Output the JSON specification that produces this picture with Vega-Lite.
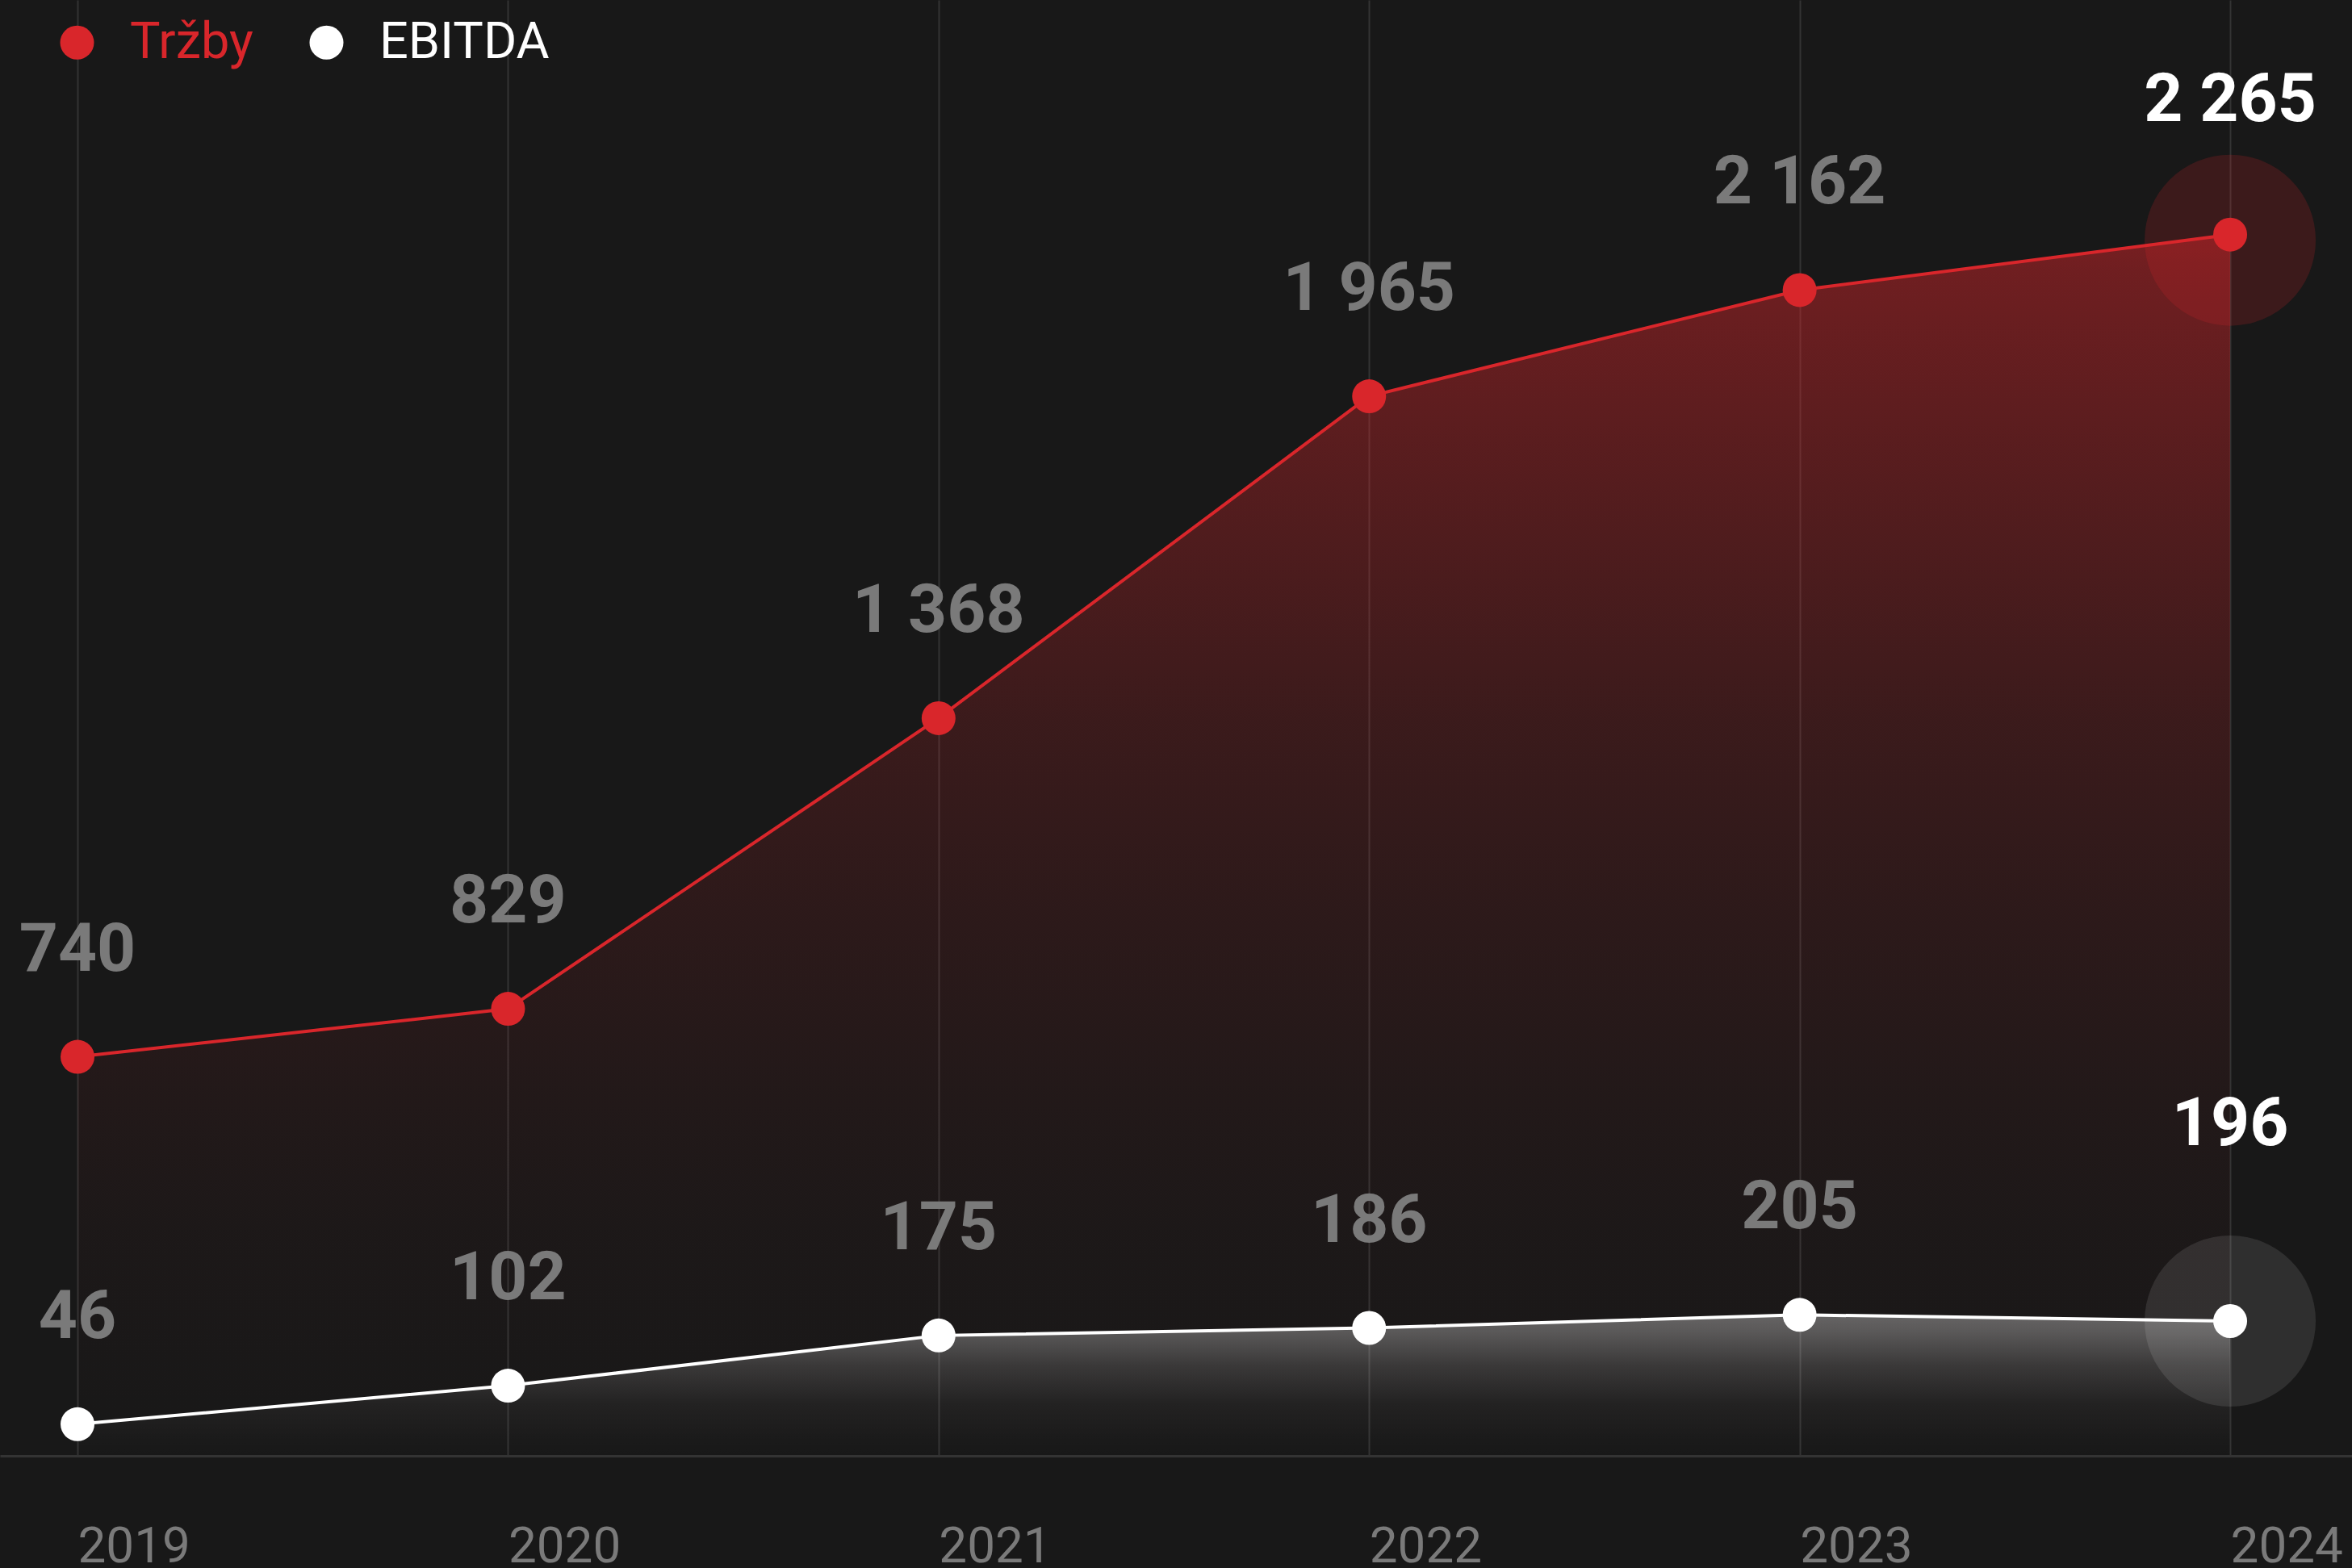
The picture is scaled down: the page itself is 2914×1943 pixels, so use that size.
{
  "$schema": "https://vega.github.io/schema/vega-lite/v6.json",
  "width": 2914,
  "height": 1804,
  "autosize": {"type": "none"},
  "padding": {"left": 0, "top": 0, "right": 0, "bottom": 139},
  "background": "#181818",
  "config": {
    "view": {"stroke": null},
    "font": "Roboto",
    "locale": {"number": {"decimal": ",", "thousands": " ", "grouping": [3], "currency": ["", " Kč"]}}
  },
  "data": {
    "values": [
      {"year": 2019, "series": "Tržby", "value": 740},
      {"year": 2020, "series": "Tržby", "value": 829},
      {"year": 2021, "series": "Tržby", "value": 1368},
      {"year": 2022, "series": "Tržby", "value": 1965},
      {"year": 2023, "series": "Tržby", "value": 2162},
      {"year": 2024, "series": "Tržby", "value": 2265},
      {"year": 2019, "series": "EBITDA", "value": 46},
      {"year": 2020, "series": "EBITDA", "value": 102},
      {"year": 2021, "series": "EBITDA", "value": 175},
      {"year": 2022, "series": "EBITDA", "value": 186},
      {"year": 2023, "series": "EBITDA", "value": 205},
      {"year": 2024, "series": "EBITDA", "value": 196}
    ]
  },
  "encoding": {
    "x": {
      "field": "year",
      "type": "quantitative",
      "scale": {"domain": [2018.82, 2024.283], "nice": false, "zero": false},
      "axis": {
        "values": [2019, 2020, 2021, 2022, 2023, 2024],
        "format": "d",
        "title": null,
        "ticks": false,
        "labelAlign": "left",
        "labelBaseline": "alphabetic",
        "labelPadding": 131,
        "labelFontSize": 62,
        "labelFont": "Roboto",
        "labelColor": "#7a7a7a",
        "labelFlush": false,
        "labelOverlap": false,
        "grid": true,
        "gridColor": "#333333",
        "gridWidth": 2,
        "domainColor": "#333333",
        "domainWidth": 3
      }
    }
  },
  "layer": [
    {
      "transform": [{"filter": "datum.series === 'Tržby'"}],
      "encoding": {
        "y": {"field": "value", "type": "quantitative", "scale": {"domain": [0, 2700], "nice": false, "zero": true}, "axis": null}
      },
      "layer": [
        {
          "mark": {
            "type": "area",
            "fill": {
              "gradient": "linear", "x1": 0, "x2": 0, "y1": 0, "y2": 1,
              "stops": [
                {"offset": 0, "color": "rgba(217,38,43,0.5)"},
                {"offset": 0.03, "color": "rgba(217,38,43,0.45)"},
                {"offset": 0.17, "color": "rgba(217,38,43,0.34)"},
                {"offset": 0.4, "color": "rgba(217,38,43,0.18)"},
                {"offset": 0.55, "color": "rgba(217,38,43,0.11)"},
                {"offset": 0.7, "color": "rgba(217,38,43,0.055)"},
                {"offset": 0.82, "color": "rgba(217,38,43,0.025)"},
                {"offset": 1, "color": "rgba(217,38,43,0)"}
              ]
            }
          }
        },
        {
          "transform": [{"filter": "datum.year === 2024"}],
          "mark": {"type": "circle", "size": 44944, "color": "#d9262b", "opacity": 0.19, "yOffset": 7}
        },
        {"mark": {"type": "line", "color": "#d9262b", "strokeWidth": 4}},
        {
          "mark": {"type": "circle", "size": 1764, "opacity": 1},
          "encoding": {
            "color": {
              "field": "series", "type": "nominal",
              "scale": {"domain": ["Tržby", "EBITDA"], "range": ["#d9262b", "#ffffff"]},
              "legend": {
                "orient": "none", "legendX": 64, "legendY": 21, "direction": "horizontal",
                "title": null, "padding": 0, "symbolType": "circle", "symbolSize": 1764,
                "symbolStrokeWidth": 0, "symbolOpacity": 1,
                "labelFontSize": 63, "labelFont": "Roboto", "labelOffset": 34, "columnPadding": 59, "labelLimit": 0,
                "encode": {"labels": {"update": {"fill": {"signal": "datum.value === 'Tržby' ? '#d9262b' : '#ffffff'"}}}}
              }
            }
          }
        },
        {
          "transform": [{"filter": "datum.year < 2024"}],
          "mark": {"type": "text", "dy": -107, "baseline": "alphabetic", "fontSize": 84, "fontWeight": "bold", "font": "Roboto", "color": "#7a7a7a"},
          "encoding": {"text": {"field": "value", "type": "quantitative", "format": ",d"}}
        },
        {
          "transform": [{"filter": "datum.year === 2024"}],
          "mark": {"type": "text", "dy": -141, "baseline": "alphabetic", "fontSize": 84, "fontWeight": "bold", "font": "Roboto", "color": "#ffffff"},
          "encoding": {"text": {"field": "value", "type": "quantitative", "format": ",d"}}
        }
      ]
    },
    {
      "transform": [{"filter": "datum.series === 'EBITDA'"}],
      "encoding": {
        "y": {"field": "value", "type": "quantitative", "scale": {"domain": [0, 2117], "nice": false, "zero": true}, "axis": null}
      },
      "layer": [
        {
          "mark": {
            "type": "area",
            "fill": {
              "gradient": "linear", "x1": 0, "x2": 0, "y1": 0, "y2": 1,
              "stops": [
                {"offset": 0, "color": "rgba(255,255,255,0.33)"},
                {"offset": 0.12, "color": "rgba(255,255,255,0.28)"},
                {"offset": 0.36, "color": "rgba(255,255,255,0.14)"},
                {"offset": 0.63, "color": "rgba(255,255,255,0.045)"},
                {"offset": 0.87, "color": "rgba(255,255,255,0.012)"},
                {"offset": 1, "color": "rgba(255,255,255,0)"}
              ]
            }
          }
        },
        {
          "transform": [{"filter": "datum.year === 2024"}],
          "mark": {"type": "circle", "size": 44944, "color": "#ffffff", "opacity": 0.1}
        },
        {"mark": {"type": "line", "color": "#ffffff", "strokeWidth": 4}},
        {
          "mark": {"type": "circle", "size": 1764, "opacity": 1},
          "encoding": {
            "color": {
              "field": "series", "type": "nominal",
              "scale": {"domain": ["Tržby", "EBITDA"], "range": ["#d9262b", "#ffffff"]},
              "legend": {
                "orient": "none", "legendX": 64, "legendY": 21, "direction": "horizontal",
                "title": null, "padding": 0, "symbolType": "circle", "symbolSize": 1764,
                "symbolStrokeWidth": 0, "symbolOpacity": 1,
                "labelFontSize": 63, "labelFont": "Roboto", "labelOffset": 34, "columnPadding": 59, "labelLimit": 0,
                "encode": {"labels": {"update": {"fill": {"signal": "datum.value === 'Tržby' ? '#d9262b' : '#ffffff'"}}}}
              }
            }
          }
        },
        {
          "transform": [{"filter": "datum.year < 2024"}],
          "mark": {"type": "text", "dy": -107, "baseline": "alphabetic", "fontSize": 84, "fontWeight": "bold", "font": "Roboto", "color": "#7a7a7a"},
          "encoding": {"text": {"field": "value", "type": "quantitative", "format": ",d"}}
        },
        {
          "transform": [{"filter": "datum.year === 2024"}],
          "mark": {"type": "text", "dy": -218, "baseline": "alphabetic", "fontSize": 84, "fontWeight": "bold", "font": "Roboto", "color": "#ffffff"},
          "encoding": {"text": {"field": "value", "type": "quantitative", "format": ",d"}}
        }
      ]
    }
  ],
  "resolve": {"scale": {"y": "independent"}}
}
